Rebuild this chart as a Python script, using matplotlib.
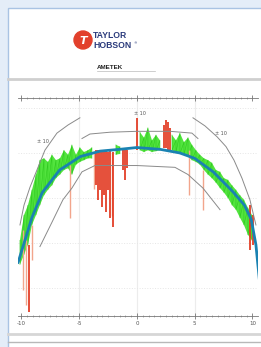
import numpy as np
import matplotlib
matplotlib.use("Agg")
import matplotlib.pyplot as plt
from matplotlib.patches import Rectangle, Circle

# form fit (blue)
fit_x = [-10.3, -9.7, -9.1, -8.2, -6.7, -4.9, -3.2, -1.5, 0.0, 2.0, 3.7, 5.0, 6.6, 8.3, 9.3, 9.9, 10.3, 10.6]
fit_y = [2.8, 5.3, 7.8, 10.6, 13.1, 14.6, 15.2, 15.4, 15.6, 15.4, 15.0, 14.4, 12.9, 10.7, 9.2, 7.6, 4.8, 0.9]

# measured profile, in-tolerance part (green band: top / bottom)
nan = np.nan
green_x = [-10.13, -9.78, -9.44, -9.09, -8.74, -8.40, -8.05, -7.71, -7.36, -7.01, -6.67, -6.32,
           -5.97, -5.63, -5.28, -4.94, -4.59, -4.24, -3.90, -3.7,
           -1.9, -1.82, -1.47, -1.3,
           0.2, 0.26, 0.61, 0.95, 1.30, 1.65, 1.99, 2.1,
           3.0, 3.03, 3.38, 3.72, 4.07, 4.42, 4.76, 5.11, 5.45, 5.80, 6.15, 6.49, 6.84,
           7.19, 7.53, 7.88, 8.23, 8.57, 8.92, 9.26, 9.61, 9.96]
green_hi = [5.3, 8.1, 9.2, 10.9, 12.6, 14.2, 14.4, 14.0, 14.8, 14.2, 14.4, 15.3,
            14.8, 15.9, 14.8, 15.6, 15.1, 15.3, 15.6, nan,
            nan, 15.9, 15.7, nan,
            nan, 17.3, 16.7, 17.8, 16.4, 17.0, 16.4, nan,
            nan, 17.0, 16.4, 17.2, 16.2, 16.7, 15.9, 15.3, 14.8, 14.4, 14.2, 13.9, 13.1,
            12.9, 12.2, 12.0, 11.4, 10.9, 10.3, 9.8, 8.9, 8.1]
green_lo = [2.6, 3.7, 4.8, 7.0, 8.1, 9.2, 10.3, 10.9, 11.4, 12.2, 12.6, 13.1,
            13.3, 12.6, 13.7, 14.0, 14.2, 14.4, 14.4, nan,
            nan, 14.8, 14.9, nan,
            nan, 15.3, 15.1, 15.3, 15.1, 15.2, 15.3, nan,
            nan, 15.3, 15.1, 14.9, 14.8, 14.6, 14.2, 14.0, 13.7, 13.1, 12.6, 12.2, 11.7,
            11.1, 10.6, 10.0, 9.2, 8.7, 7.8, 7.0, 5.9, 5.3]

# out-of-tolerance parts (red), strong and faint
red_x = [-3.55, -3.38, -3.20, -3.03, -2.86, -2.68, -2.51, -2.34, -2.08, -1.21, -1.04, -0.87,
         0.0, 2.34, 2.51, 2.68, 2.86, 9.78, 10.04, -9.35]
red_top = [15.3, 15.3, 15.1, 15.3, 15.1, 15.3, 15.1, 15.3, 15.1, 15.3, 15.6, 15.3,
           18.9, 18.1, 18.7, 18.4, 17.8, 9.2, 8.1, 4.8]
red_bot = [11.4, 9.8, 10.9, 9.0, 10.3, 8.4, 10.9, 7.8, 6.8, 13.1, 12.0, 13.3,
           15.3, 15.6, 15.6, 15.3, 15.3, 4.2, 4.8, -2.7]
faint_x = [-9.87, -9.61, -9.09, -5.80, -3.72, -2.2, 4.50, 5.71]
faint_top = [6.4, 5.3, 7.0, 13.7, 15.0, 15.0, 15.3, 13.1]
faint_bot = [-0.2, -1.9, 3.1, 7.8, 11.0, 8.0, 10.3, 8.7]

# tolerance zones (grey)
upper_x = [-4.76, -4.07, -2.34, 0.0, 2.86, 4.76, 5.28]
upper_y = [16.6, 17.1, 17.3, 17.4, 17.4, 17.2, 16.6]
lower_x = [-8.40, -7.36, -6.41, -5.63, -4.76, -3.64, 0.0, 3.29, 4.42, 5.71, 7.19]
lower_y = [4.6, 7.3, 9.8, 11.1, 12.9, 13.6, 13.6, 13.4, 12.6, 11.1, 8.7]
arcL_x = [-4.94, -5.97, -6.93, -7.97, -8.66, -9.26, -9.78, -10.13]
arcL_y = [18.9, 18.1, 17.2, 15.3, 13.1, 11.2, 9.2, 7.0]
arcR_x = [4.85, 5.89, 6.93, 7.71, 8.40, 9.09, 9.78, 10.30]
arcR_y = [18.9, 18.0, 16.8, 15.7, 14.2, 12.2, 9.8, 7.0]

tol_labels = ["± 10", "± 10", "± 10"]
tol_label_x = [-8.1, 0.3, 7.3]
tol_label_y = [16.3, 19.4, 17.2]

xticks = [-10, -5, 0, 5, 10]

fig = plt.figure(figsize=(2.61, 3.47), dpi=100, facecolor="#e4edf8")

# page / header layer in pixel coordinates
bg = fig.add_axes([0, 0, 1, 1])
bg.set_xlim(0, 261)
bg.set_ylim(347, 0)
bg.axis("off")
bg.add_patch(Rectangle((7.5, 7.5), 260, 345, facecolor="white", edgecolor="#a9c3e3", lw=1))
bg.add_patch(Circle((83, 40), 9, color="#e2402c"))
bg.text(83, 41, "T", color="white", fontsize=8, fontweight="bold", ha="center", va="center",
        style="italic")
bg.text(93, 35.5, "TAYLOR", color="#2b3b7c", fontsize=6.2, fontweight="bold", va="center",
        family="Liberation Sans")
bg.text(93, 45, "HOBSON", color="#2b3b7c", fontsize=6.2, fontweight="bold", va="center",
        family="Liberation Sans")
bg.text(133.5, 43, "®", color="#2b3b7c", fontsize=2.5, va="center")
bg.text(97, 67, "AMETEK", color="#222222", fontsize=4.5, fontweight="bold", va="center",
        family="Liberation Sans")
bg.plot([97, 155], [71, 71], color="#bbbbbb", lw=0.5)
bg.plot([8, 261], [79, 79], color="#cfcfcf", lw=2)
bg.plot([8, 261], [334, 334], color="#d6d6d6", lw=2)
bg.plot([8, 261], [341.5, 341.5], color="#b8b8b8", lw=1)

ax = fig.add_axes([18 / 261, 31 / 347, 240 / 261, 218 / 347])
ax.set_xlim(-10.3, 10.48)
ax.set_ylim(-3.11, 21.1)
ax.set_facecolor("none")

for gx in [-5, 0, 5]:
    ax.axvline(gx, color="#ececec", lw=0.8, zorder=0)
for gy in [0, 5, 10, 15, 20]:
    ax.axhline(gy, color="#e6e6e6", lw=0.7, ls=":", zorder=0)

ax.fill_between(green_x, green_lo, green_hi, color="#52e43e", lw=0, zorder=2)
zig_y = [v for pair in zip(green_hi, green_lo) for v in pair]
zig_x = [v for pair in zip(green_x, green_x) for v in pair]
ax.plot(zig_x, zig_y, color="#2fc81f", lw=0.4, zorder=2)

ax.vlines(faint_x, faint_bot, faint_top, color="#f2a58c", lw=1.0, zorder=2)
ax.vlines(red_x, red_bot, red_top, color="#e23a22", lw=1.4, alpha=0.9, zorder=3)

for xs, ys in [(upper_x, upper_y), (lower_x, lower_y), (arcL_x, arcL_y), (arcR_x, arcR_y)]:
    ax.plot(xs, ys, color="#8a8a8a", lw=0.7, zorder=4)

ax.plot(fit_x, fit_y, color="#1a82b2", lw=2.0, zorder=5, solid_capstyle="round")

for t, tx, ty in zip(tol_labels, tol_label_x, tol_label_y):
    ax.text(tx, ty, t, fontsize=3.5, color="#555555", ha="center", va="center", zorder=6)

for side in ["left", "right"]:
    ax.spines[side].set_visible(False)
for side in ["top", "bottom"]:
    ax.spines[side].set_color("#777777")
    ax.spines[side].set_linewidth(0.6)

ax.set_xticks(xticks)
ax.set_xticklabels([str(v) for v in xticks])
ax.set_xticks(np.arange(-10, 10.5, 0.5), minor=True)
ax.set_yticks([])
ax.tick_params(axis="x", which="both", top=True, bottom=True, direction="inout", color="#777777",
               labelsize=4, labelcolor="#555555", pad=1.5)
ax.tick_params(axis="x", which="major", length=4, width=0.6)
ax.tick_params(axis="x", which="minor", length=2.0, width=0.4)

fig.savefig("out.png", dpi=100, facecolor=fig.get_facecolor())
